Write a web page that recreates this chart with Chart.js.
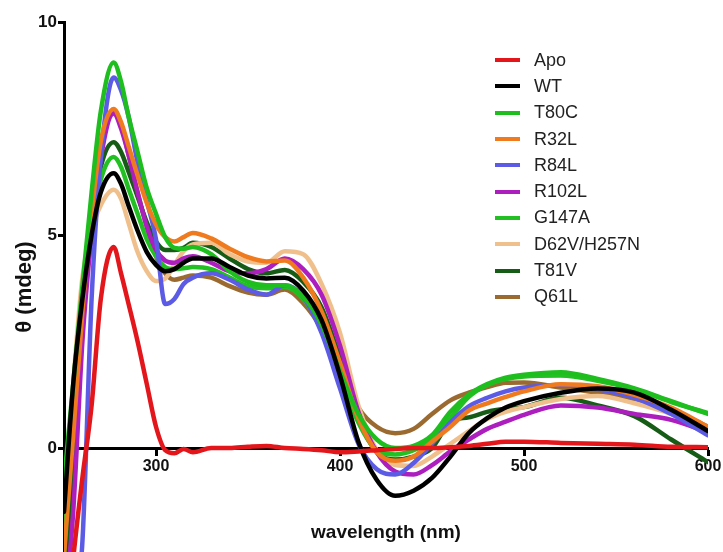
<!DOCTYPE html>
<html lang="en">
<head>
  <meta charset="UTF-8" />
  <title>CD spectra</title>
  <script src="https://cdn.jsdelivr.net/npm/chart.js"></script>
  <style>
    html, body { margin: 0; padding: 0; background: #fff; overflow: hidden; }
    #wrap { position: relative; width: 723px; height: 552px; }
    #legend { position: absolute; left: 495px; top: 47px; font-family: "Liberation Sans", Arial, sans-serif; font-size: 18px; color: #222; }
    .item { display: flex; align-items: center; height: 26.3px; }
    .swatch { width: 25px; height: 4px; margin-right: 14px; }
  </style>
</head>
<body>
  <div id="wrap">
    <canvas id="cd" width="723" height="552"></canvas>
    <div id="legend"></div>
  </div>

  <script>
    // wavelength grid (nm) shared by all spectra
    const wavelengths = [250, 255, 260, 265, 270, 277, 281, 285, 290, 295, 300, 305, 310, 315, 320, 330, 340, 350, 360, 370, 380,
                         390, 400, 410, 420, 430, 440, 450, 460, 470, 480, 490, 500, 520, 540, 560, 580, 600];

    // ellipticity (mdeg)
    const apo   = [-5, -2.6, -0.7, 1.0, 3.5, 4.72, 4.1, 3.4, 2.5, 1.5, 0.5, -0.05, -0.12, -0.02, -0.1, 0.0, 0.0, 0.03, 0.05, 0.0, -0.02,
                   -0.05, -0.1, -0.08, -0.05, -0.02, 0.0, 0.0, 0.02, 0.05, 0.1, 0.15, 0.15, 0.12, 0.1, 0.08, 0.03, 0.02];
    const wt    = [-1.5, 1.5, 3.5, 5.0, 6.0, 6.45, 6.2, 5.7, 5.1, 4.6, 4.3, 4.15, 4.2, 4.35, 4.45, 4.45, 4.25, 4.05, 3.98, 4.0, 3.7,
                   3.0, 1.7, 0.15, -0.75, -1.12, -1.0, -0.7, -0.2, 0.35, 0.7, 0.95, 1.1, 1.3, 1.4, 1.3, 0.9, 0.4];
    const t80c  = [-0.8, 1.5, 3.8, 6.0, 7.9, 9.05, 8.6, 7.8, 6.95, 6.1, 5.5, 4.95, 4.7, 4.68, 4.72, 4.55, 4.15, 3.9, 3.82, 3.82, 3.55,
                   2.9, 1.8, 0.8, 0.2, 0.0, 0.05, 0.3, 0.85, 1.25, 1.5, 1.65, 1.72, 1.78, 1.62, 1.4, 1.1, 0.8];
    const r32l  = [-2.5, 0.3, 3.2, 5.5, 7.2, 7.96, 7.65, 7.1, 6.4, 5.75, 5.25, 4.95, 4.85, 4.95, 5.05, 4.92, 4.68, 4.48, 4.38, 4.4, 4.0,
                   3.2, 2.0, 0.7, -0.1, -0.3, -0.2, 0.15, 0.5, 0.88, 1.05, 1.2, 1.33, 1.5, 1.45, 1.25, 0.95, 0.5];
    const r84l  = [-6, -4, -2.2, 3.5, 6.8, 8.7, 8.4, 7.8, 6.7, 5.8, 4.9, 3.38, 3.5, 3.85, 4.0, 4.1, 3.95, 3.72, 3.6, 3.82, 3.55,
                   2.7, 1.4, 0.1, -0.5, -0.62, -0.35, 0.1, 0.6, 0.98, 1.18, 1.33, 1.42, 1.48, 1.38, 1.18, 0.8, 0.3];
    const r102l = [-4, -1.5, 2.5, 5.0, 6.8, 7.85, 7.5, 6.9, 6.0, 5.2, 4.65, 4.4, 4.35, 4.45, 4.5, 4.35, 4.15, 4.1, 4.2, 4.45, 4.2,
                   3.6, 2.4, 0.85, -0.1, -0.55, -0.62, -0.4, -0.08, 0.2, 0.45, 0.62, 0.78, 1.0, 0.95, 0.8, 0.66, 0.37];
    const g147a = [-2.5, 1.0, 3.5, 5.2, 6.3, 6.83, 6.6, 6.1, 5.5, 4.9, 4.5, 4.25, 4.2, 4.22, 4.25, 4.2, 4.0, 3.8, 3.75, 3.78, 3.5,
                   2.8, 1.7, 0.6, -0.05, -0.15, -0.05, 0.2, 0.7, 1.2, 1.48, 1.62, 1.68, 1.7, 1.58, 1.38, 1.08, 0.82];
    const d62v  = [-1.7, 1.5, 4.0, 5.1, 5.7, 6.06, 5.85, 5.3, 4.6, 4.15, 3.92, 3.98, 4.3, 4.62, 4.78, 4.82, 4.55, 4.38, 4.35, 4.62, 4.55,
                   3.85, 2.7, 1.0, -0.05, -0.4, -0.42, -0.2, 0.1, 0.4, 0.68, 0.85, 0.96, 1.15, 1.22, 1.05, 0.8, 0.42];
    const t81v  = [-3, -0.3, 3.0, 5.3, 6.6, 7.18, 6.95, 6.5, 5.9, 5.3, 4.85, 4.65, 4.65, 4.7, 4.82, 4.72, 4.45, 4.2, 4.1, 4.18, 3.9,
                   3.3, 2.1, 0.7, -0.1, -0.27, -0.2, 0.0, 0.62, 0.72, 0.85, 0.92, 0.96, 1.18, 1.0, 0.75, 0.2, -0.33];
    const q61l  = [-3, -0.5, 2.9, 5.3, 7.0, 7.9, 7.6, 6.9, 6.0, 5.2, 4.5, 4.1, 3.95, 4.0, 4.05, 4.0, 3.8, 3.65, 3.6, 3.72, 3.4,
                   2.8, 1.9, 0.95, 0.5, 0.35, 0.45, 0.8, 1.12, 1.3, 1.43, 1.53, 1.54, 1.42, 1.3, 1.15, 0.9, 0.5];

    const seriesNames  = ["Apo", "WT", "T80C", "R32L", "R84L", "R102L", "G147A", "D62V/H257N", "T81V", "Q61L"];
    const seriesValues = [apo, wt, t80c, r32l, r84l, r102l, g147a, d62v, t81v, q61l];
    const seriesColors = ["#e3161c", "#000000", "#1fbe1f", "#f07a1e", "#5b5be6", "#ad1ebf", "#22c022", "#f0c08c", "#165c16", "#9a6a30"];

    const xTicks = [300, 400, 500, 600];
    const yTicks = [0, 5, 10];

    const family = "'Liberation Sans', Arial, sans-serif";

    const datasets = seriesNames.map((name, i) => ({
      label: name,
      data: wavelengths.map((w, j) => ({ x: w, y: seriesValues[i][j] })),
      borderColor: seriesColors[i],
      borderWidth: 4.5,
      pointRadius: 0,
      fill: false,
      cubicInterpolationMode: "monotone",
      borderJoinStyle: "round",
      borderCapStyle: "round"
    }));

    // legend in the upper right of the plot
    const legend = document.getElementById("legend");
    seriesNames.forEach((name, i) => {
      const row = document.createElement("div");
      row.className = "item";
      row.innerHTML = `<span class="swatch" style="background:${seriesColors[i]}"></span><span>${name}</span>`;
      legend.appendChild(row);
    });

    const axisGrid = { display: true, drawOnChartArea: false, drawTicks: true, tickLength: 6, tickColor: "#000", tickWidth: 3 };
    const axisBorder = { display: true, color: "#000", width: 3 };

    new Chart(document.getElementById("cd"), {
      type: "line",
      data: { datasets },
      options: {
        responsive: false,
        animation: false,
        devicePixelRatio: 1,
        layout: { padding: { top: 22, right: 15, bottom: 0, left: 0 } },
        plugins: { legend: { display: false }, tooltip: { enabled: false } },
        scales: {
          x: {
            type: "linear",
            position: { y: 0 },
            min: 250,
            max: 600,
            afterBuildTicks: s => { s.ticks = xTicks.map(v => ({ value: v })); },
            afterFit: s => { s.paddingLeft = 0; s.paddingRight = 0; },
            ticks: { font: { family, size: 16, weight: "bold" }, color: "#111", padding: 3, maxRotation: 0, autoSkip: false },
            grid: axisGrid,
            border: axisBorder,
            title: { display: true, text: "wavelength (nm)", font: { family, size: 19, weight: "bold" }, color: "#111", padding: { top: 42, bottom: 0 } }
          },
          y: {
            type: "linear",
            position: "left",
            min: -2.44,
            max: 10,
            afterBuildTicks: s => { s.ticks = yTicks.map(v => ({ value: v })); },
            afterFit: s => { s.width = 64; s.paddingTop = 0; s.paddingBottom = 0; },
            ticks: { font: { family, size: 17, weight: "bold" }, color: "#111", padding: 1 },
            grid: axisGrid,
            border: axisBorder,
            title: { display: true, text: "θ (mdeg)", font: { family, size: 22, weight: "bold" }, color: "#111", padding: { top: 12, bottom: 0 } }
          }
        }
      }
    });
  </script>
</body>
</html>
